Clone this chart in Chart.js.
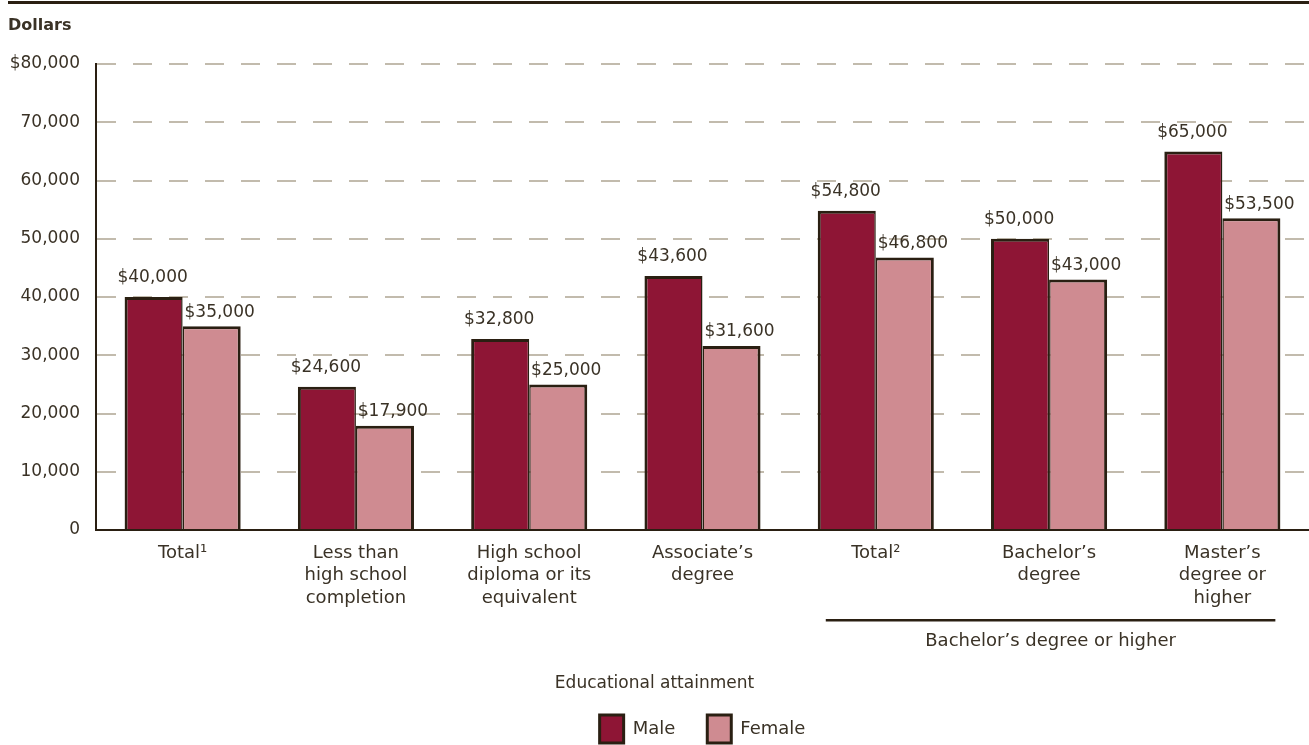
<!DOCTYPE html>
<html lang="en">
<head>
  <meta charset="UTF-8">
  <title>Median earnings by educational attainment and sex</title>
  <script src="https://cdn.jsdelivr.net/npm/chart.js"></script>
  <style>
    html, body {
      margin: 0;
      padding: 0;
      background: #fff;
    }
    .wrap {
      width: 1309px;
      height: 745px;
      position: relative;
    }
  </style>
</head>
<body>
  <div class="wrap">
    <canvas id="grafico"></canvas>
  </div>

  <script>
    const categorias = [
      ['Total\u00B9'],
      ['Less than', 'high school', 'completion'],
      ['High school', 'diploma or its', 'equivalent'],
      ['Associate\u2019s', 'degree'],
      ['Total\u00B2'],
      ['Bachelor\u2019s', 'degree'],
      ['Master\u2019s', 'degree or', 'higher']
    ];
    const masculino = [40000, 24600, 32800, 43600, 54800, 50000, 65000];
    const feminino = [35000, 17900, 25000, 31600, 46800, 43000, 53500];
    const yTicks = [0, 10000, 20000, 30000, 40000, 50000, 60000, 70000, 80000];
    const grupoLabel = 'Bachelor\u2019s degree or higher';
    const legendaTitulo = 'Educational attainment';

    const FONTE = "'DejaVu Sans', sans-serif";
    const TEXTO = '#3a3226';
    const ESCURO = '#2a1f12';

    // deslocamento dos rótulos de valor por série (x, y)
    const offsets = [[-1, -19], [8, -14]];

    // rótulos de valor, linha do topo, "Dollars", chave do grupo e título da legenda
    const extras = {
      id: 'extras',
      afterDatasetsDraw(chart) {
        const ctx = chart.ctx;
        ctx.save();
        ctx.fillStyle = TEXTO;
        ctx.font = '17px ' + FONTE;
        ctx.textAlign = 'center';
        ctx.textBaseline = 'middle';
        chart.data.datasets.forEach((ds, i) => {
          const [dx, dy] = offsets[i];
          chart.getDatasetMeta(i).data.forEach((bar, j) => {
            ctx.fillText('$' + ds.data[j].toLocaleString('en-US'), bar.x + dx, bar.y + dy);
          });
        });

        // linha do topo
        ctx.fillStyle = ESCURO;
        ctx.fillRect(8, 1, chart.width - 8, 3);

        ctx.fillStyle = TEXTO;
        ctx.font = 'bold 16px ' + FONTE;
        ctx.textAlign = 'left';
        ctx.fillText('Dollars', 8, 26);

        // chave "Bachelor's degree or higher"
        const x = chart.scales.x;
        const x1 = x.getPixelForValue(4) - 50;
        const x2 = x.getPixelForValue(6) + 53;
        ctx.fillStyle = ESCURO;
        ctx.fillRect(x1, 619, x2 - x1, 2.5);
        ctx.fillStyle = TEXTO;
        ctx.font = '18px ' + FONTE;
        ctx.textAlign = 'center';
        ctx.fillText(grupoLabel, (x1 + x2) / 2, 641);

        ctx.font = '17px ' + FONTE;
        ctx.fillText(legendaTitulo, chart.width / 2, 684);
        ctx.restore();
      }
    };

    new Chart(document.getElementById('grafico'), {
      type: 'bar',
      data: {
        labels: categorias,
        datasets: [
          {
            label: 'Male',
            data: masculino,
            backgroundColor: '#8e1535',
            borderColor: ESCURO,
            borderWidth: { top: 3, left: 3, right: 1.5, bottom: 0 }
          },
          {
            label: 'Female',
            data: feminino,
            backgroundColor: '#cf8b91',
            borderColor: ESCURO,
            borderWidth: { top: 3, left: 1.5, right: 3, bottom: 0 }
          }
        ]
      },
      options: {
        responsive: true,
        maintainAspectRatio: false,
        animation: false,
        layout: {
          padding: { top: 64, right: 0, left: 0, bottom: -8 }
        },
        datasets: {
          bar: { categoryPercentage: 0.67, barPercentage: 1.0 }
        },
        scales: {
          x: {
            grid: { display: false, drawTicks: false },
            border: { color: ESCURO, width: 2 },
            ticks: {
              color: TEXTO,
              font: { family: FONTE, size: 18, lineHeight: 1.25 },
              padding: 12,
              maxRotation: 0,
              autoSkip: false
            },
            afterFit(scale) { scale.height = 153; }
          },
          y: {
            min: 0,
            max: 80000,
            afterBuildTicks(scale) { scale.ticks = yTicks.map(v => ({ value: v })); },
            grid: {
              color: '#c2bbad',
              lineWidth: 2,
              drawTicks: false
            },
            border: { color: ESCURO, width: 2, dash: [19, 17] },
            ticks: {
              color: TEXTO,
              font: { family: FONTE, size: 17 },
              padding: 16,
              callback: v => v === 80000 ? '$80,000' : v.toLocaleString('en-US')
            },
            afterFit(scale) { scale.width = 96; }
          }
        },
        plugins: {
          tooltip: { enabled: false },
          legend: {
            position: 'bottom',
            fullSize: false,
            labels: {
              color: TEXTO,
              font: { family: FONTE, size: 18 },
              boxWidth: 24,
              boxHeight: 28,
              padding: 32,
              generateLabels(chart) {
                return chart.data.datasets.map((ds, i) => ({
                  text: ds.label,
                  fillStyle: ds.backgroundColor,
                  strokeStyle: ESCURO,
                  lineWidth: 3,
                  fontColor: TEXTO,
                  hidden: false,
                  datasetIndex: i
                }));
              }
            }
          }
        }
      },
      plugins: [extras]
    });
  </script>
</body>
</html>
